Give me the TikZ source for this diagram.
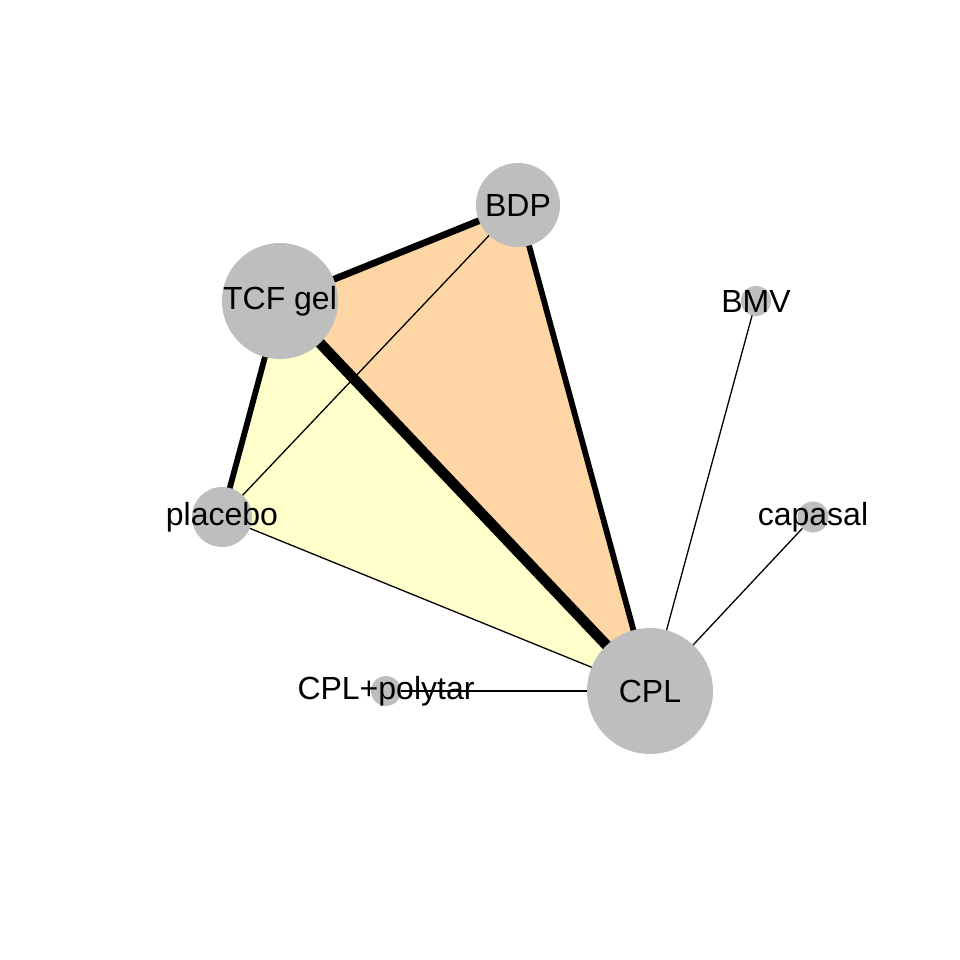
\documentclass[tikz,border=0pt]{standalone}
\usepackage{fontspec}
\setmainfont{Liberation Sans}
\usepackage{xcolor}
\usepackage{tikz}
\usetikzlibrary{backgrounds}
\definecolor{armgray}{RGB}{190,190,190}
\definecolor{multiorange}{RGB}{254,213,165}
\definecolor{multiyellow}{RGB}{255,255,204}
\tikzset{
    trtnode/.style={
        circle,
        fill=armgray,
        inner sep=0pt
    },
    trtlabel/.style={
        font=\fontsize{16}{19}\selectfont,
        inner sep=0pt
    },
    comparison/.style={
        line width=0.65pt
    },
    multiarm/.style={
        draw=none
    }
}

\begin{document}
\begin{tikzpicture}[x=0.5pt, y=-0.5pt]
        \useasboundingbox (0,0) rectangle (960,960);

        % treatments
        \node[trtnode, minimum size=42pt] (bdp) at (518,205) {};
        \node[trtnode, minimum size=58pt] (tcf) at (280,301) {};
        \node[trtnode, minimum size=15pt] (bmv) at (756,301) {};
        \node[trtnode, minimum size=30pt] (placebo) at (222,517) {};
        \node[trtnode, minimum size=15.5pt] (capasal) at (813,517) {};
        \node[trtnode, minimum size=15pt] (polytar) at (386,691) {};
        \node[trtnode, minimum size=63pt] (cpl) at (650,691) {};

        \node[trtlabel] at (bdp.center) {BDP};
        \node[trtlabel] at (tcf.center) {TCF gel};
        \node[trtlabel] at (bmv.center) {BMV};
        \node[trtlabel] at (placebo.center) {placebo};
        \node[trtlabel] at (capasal.center) {capasal};
        \node[trtlabel] at (polytar.center) {CPL+polytar};
        \node[trtlabel] at (cpl.center) {CPL};

        \begin{scope}[on background layer]
            % multi-arm studies
            \fill[multiarm, multiorange] (tcf.center) -- (bdp.center) -- (cpl.center) -- cycle;
            \fill[multiarm, multiyellow] (tcf.center) -- (placebo.center) -- (cpl.center) -- cycle;

            % comparisons
            \draw[comparison, line width=5.3pt] (tcf.center) -- (cpl.center);
            \draw[comparison, line width=3.4pt] (tcf.center) -- (bdp.center);
            \draw[comparison, line width=2.9pt] (bdp.center) -- (cpl.center);
            \draw[comparison, line width=2.9pt] (tcf.center) -- (placebo.center);
            \draw[comparison] (bdp.center) -- (placebo.center);
            \draw[comparison] (placebo.center) -- (cpl.center);
            \draw[comparison] (bmv.center) -- (cpl.center);
            \draw[comparison] (capasal.center) -- (cpl.center);
            \draw[comparison] (polytar.center) -- (cpl.center);
        \end{scope}
    \end{tikzpicture}
\end{document}
